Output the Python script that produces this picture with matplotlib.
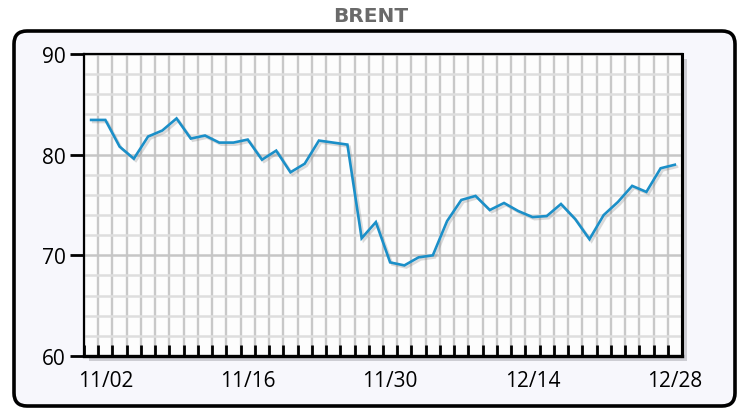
import matplotlib
matplotlib.use("Agg")
import matplotlib.pyplot as plt
import matplotlib.patheffects as pe
from matplotlib.patches import FancyBboxPatch, Rectangle
from matplotlib.transforms import IdentityTransform
import numpy as np

title = "BRENT"
dates = ["11/01", "11/02", "11/03", "11/04", "11/05", "11/08", "11/09", "11/10",
         "11/11", "11/12", "11/15", "11/16", "11/17", "11/18", "11/19", "11/22",
         "11/23", "11/24", "11/25", "11/26", "11/29", "11/30", "12/01", "12/02",
         "12/03", "12/06", "12/07", "12/08", "12/09", "12/10", "12/13", "12/14",
         "12/15", "12/16", "12/17", "12/20", "12/21", "12/22", "12/23", "12/24",
         "12/27", "12/28"]
prices = [83.45, 83.45, 80.8, 79.6, 81.8, 82.4, 83.6, 81.6, 81.9, 81.2,
          81.2, 81.5, 79.5, 80.4, 78.25, 79.1, 81.4, 81.2, 81.0, 71.7,
          73.3, 69.3, 69.0, 69.8, 70.0, 73.4, 75.5, 75.9, 74.5, 75.2,
          74.4, 73.8, 73.9, 75.1, 73.6, 71.6, 74.0, 75.3, 76.9, 76.3,
          78.65, 79.0]
label_dates = ["11/02", "11/16", "11/30", "12/14", "12/28"]
y_ticks = [60, 70, 80, 90]

W, H = 741, 410
fig = plt.figure(figsize=(W / 100, H / 100), dpi=100)
fig.patch.set_facecolor("white")

# outer rounded frame
frame = FancyBboxPatch((14, 3), 721, 375,
                       boxstyle="round,pad=0,rounding_size=13",
                       transform=IdentityTransform(),
                       facecolor="#f7f7fc", edgecolor="black", linewidth=2.6,
                       zorder=-3)
fig.patches.append(frame)

# plot area geometry (pixels)
L, R, T, B = 84, 682, 55, 357
ax = fig.add_axes([L / W, 1 - B / H, (R - L) / W, (B - T) / H])

# shadow behind the plot area
shadow = Rectangle((L + 5, H - B - 5), R - L, B - T, transform=IdentityTransform(),
                   facecolor="#cdcdd3", edgecolor="none", zorder=-1)
fig.patches.append(shadow)

ax.set_facecolor("#fdfdfd")
n = len(prices)
x = np.arange(n)
ax.plot(x, prices, color="#1b8fc8", linewidth=1.9, solid_joinstyle="miter",
        zorder=5,
        path_effects=[pe.SimpleLineShadow(offset=(1.5, -1.5), shadow_color="#888888", alpha=0.3),
                      pe.Normal()])

ax.set_xlim(-0.5, n - 0.5)
ax.set_ylim(60, 90)

# x ticks
label_idx = [dates.index(d) for d in label_dates]
ax.set_xticks(label_idx)
ax.set_xticklabels(label_dates)
ax.set_xticks(np.arange(-0.5, n + 0.5, 1.0), minor=True)
ax.tick_params(axis="x", which="major", length=0, pad=10)
ax.tick_params(axis="x", which="minor", direction="in", length=8, width=2,
               color="black", top=False)

# y ticks
ax.set_yticks(y_ticks)
ax.set_yticks(np.arange(60, 91, 2), minor=True)
ax.tick_params(axis="y", which="major", direction="out", length=10, width=2,
               color="black", pad=3)
ax.tick_params(axis="y", which="minor", length=0)

for lab in ax.get_xticklabels() + ax.get_yticklabels():
    lab.set_fontfamily("Open Sans")
    lab.set_fontsize(15)
    lab.set_color("black")

# grid
ax.grid(which="minor", axis="y", color="#dedede", linewidth=1.8, zorder=0)
ax.grid(which="major", axis="y", color="#c6c6c6", linewidth=1.8, zorder=0)
ax.grid(which="minor", axis="x", color="#c8c8c8", linewidth=1.7, zorder=0)
ax.set_axisbelow(True)

for side, lw in [("left", 1.6), ("top", 1.6), ("right", 2.2), ("bottom", 2.4)]:
    ax.spines[side].set_linewidth(lw)
    ax.spines[side].set_color("black")

fig.text(0.5, 1 - 17 / H, title, ha="center", va="center",
         fontsize=14.5, fontweight="bold", color="#6a6a6a", family="DejaVu Sans")

fig.savefig("out.png", dpi=100, facecolor="white")
